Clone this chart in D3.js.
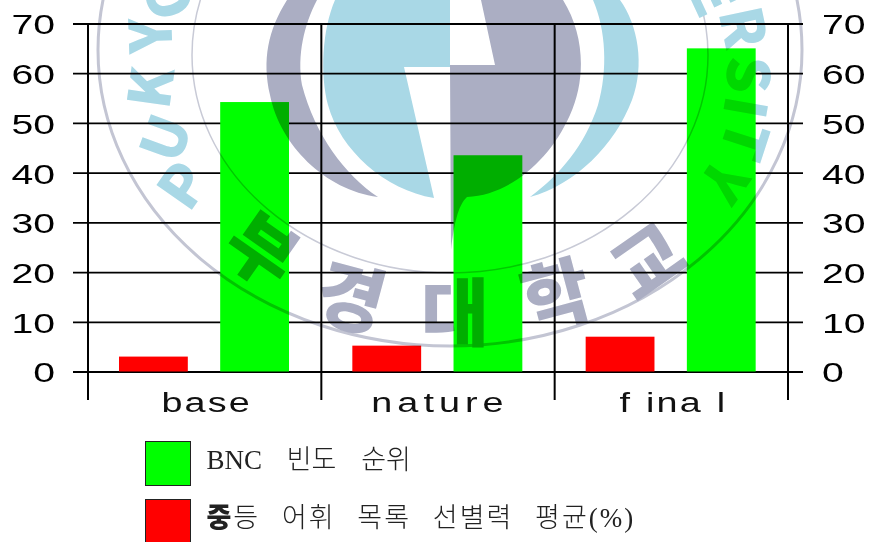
<!DOCTYPE html>
<html>
<head>
<meta charset="utf-8">
<script src="https://cdn.jsdelivr.net/npm/d3@7"></script>
<style>
  html, body { margin: 0; padding: 0; background: #fff; overflow: hidden; }
  svg { display: block; }
</style>
</head>
<body>
<script>
// Values
const categorias = ["base", "nature", "final"];
const serieRoja = [3, 5.2, 7];
const serieVerde = [54.2, 43.5, 65];
const marcasY = [0, 10, 20, 30, 40, 50, 60, 70];
const leyenda = ["BNC 빈도 순위", "등 어휘 목록 선별력 평균(%)"];
const coloresSerie = ["#ff0000", "#00ff00"];

const ancho = 869, alto = 542;
const svg = d3.select("body").append("svg")
  .attr("width", ancho)
  .attr("height", alto)
  .style("font-family", "'Liberation Sans', Arial, sans-serif");

const escalaY = d3.scaleLinear().domain([0, 70]).range([371.5, 23.5]);
const escalaX = d3.scaleBand().domain(categorias).range([88, 788]);
// position of the two bars inside each category
const escalaSerie = d3.scaleBand().domain([0, 1]).range([31, 201]).paddingInner(0.32);

const estiramiento = 1.4;
const grilla = svg.append("g");

// Axes: the left one also draws the long horizontal lines
const ejeIzq = grilla.append("g")
  .attr("transform", "translate(73,0)")
  .call(d3.axisLeft(escalaY).tickValues(marcasY).tickSize(-730).tickPadding(18));
const ejeDer = grilla.append("g")
  .attr("transform", "translate(803,0)")
  .call(d3.axisRight(escalaY).tickValues(marcasY).tickSize(0).tickPadding(19));

grilla.selectAll(".domain").remove();
grilla.selectAll(".tick line").attr("stroke", "#000").attr("stroke-width", 1.8);
[ejeIzq, ejeDer].forEach(eje => {
  eje.selectAll("text")
    .attr("font-size", 28)
    .attr("fill", "#000")
    .attr("y", 1.5)
    .attr("x", function () { return +d3.select(this).attr("x") / estiramiento; })
    .attr("transform", `scale(${estiramiento},1)`);
});

// Vertical separators come from the band edges
const bordes = categorias.map(c => escalaX(c)).concat(escalaX.range()[1]);
grilla.selectAll("line.sep")
  .data(bordes)
  .join("line")
  .attr("class", "sep")
  .attr("x1", d => d).attr("x2", d => d)
  .attr("y1", escalaY(70)).attr("y2", 400)
  .attr("stroke", "#000")
  .attr("stroke-width", 2);

// Bars
const filas = categorias.map((c, i) => [
  { c, serie: 0, valor: serieRoja[i] },
  { c, serie: 1, valor: serieVerde[i] },
]).flat();
svg.append("g").selectAll("rect")
  .data(filas)
  .join("rect")
  .attr("x", d => escalaX(d.c) + escalaSerie(d.serie))
  .attr("y", d => escalaY(d.valor))
  .attr("width", escalaSerie.bandwidth())
  .attr("height", d => escalaY(0) - escalaY(d.valor))
  .attr("fill", d => coloresSerie[d.serie]);

// Category labels, wide and loosely spaced as in the original
const espaciado = { base: 1.5, nature: 3.6, final: 1.5 };
const huecos = { base: null, nature: null, final: "0 10 0 0 10" };
svg.append("g").selectAll("text")
  .data(categorias)
  .join("text")
  .attr("transform", d => `translate(${escalaX(d) + escalaX.bandwidth() / 2 + 2},412) scale(${estiramiento},1)`)
  .attr("text-anchor", "middle")
  .attr("font-size", 27)
  .attr("fill", "#111")
  .attr("dx", d => huecos[d])
  .style("letter-spacing", d => espaciado[d] + "px")
  .text(d => d);

// Legend
const ajusteLeyenda = [{ letra: 0, palabra: 18 }, { letra: 2, palabra: 13 }];
const filasLeyenda = svg.append("g").selectAll("g")
  .data(leyenda)
  .join("g")
  .attr("transform", (d, i) => `translate(145.5,${i === 0 ? 441.5 : 499.5})`);
filasLeyenda.append("rect")
  .attr("width", 45)
  .attr("height", 44)
  .attr("fill", (d, i) => coloresSerie[1 - i])
  .attr("stroke", "#222");
const textoLeyenda = filasLeyenda.append("text")
  .attr("x", 61)
  .attr("y", 27)
  .attr("font-family", "'Liberation Serif', 'Noto Sans CJK KR', serif")
  .attr("font-size", 27)
  .attr("font-weight", 300)
  .attr("fill", "#222")
  .style("letter-spacing", (d, i) => ajusteLeyenda[i].letra + "px")
  .style("word-spacing", (d, i) => ajusteLeyenda[i].palabra + "px");
textoLeyenda.filter((d, i) => i === 1).append("tspan")
  .attr("font-weight", 900)
  .attr("font-family", "'Noto Sans CJK KR', sans-serif")
  .text("중");
textoLeyenda.append("tspan").text(d => d);

// University seal watermark, multiplied over everything so the bars darken below it
const azul = "#a9d8e6", gris = "#abaec3";
const sello = svg.append("g").style("mix-blend-mode", "multiply");
sello.append("ellipse")
  .attr("cx", 450).attr("cy", 50).attr("rx", 352).attr("ry", 296)
  .attr("fill", "none").attr("stroke", "#c3c5d3").attr("stroke-width", 3);
sello.append("ellipse")
  .attr("cx", 450).attr("cy", 55).attr("rx", 258).attr("ry", 218)
  .attr("fill", "none").attr("stroke", "#c8cad6").attr("stroke-width", 1.5);
// left crescent
sello.append("path").attr("fill", gris)
  .attr("d", "M287,0 C268,30 262,60 270,95 C280,145 325,190 378,197 C345,175 315,135 302,85 C297,55 304,25 317,0 Z");
// blue half of the shield
sello.append("path").attr("fill", azul)
  .attr("d", "M335,0 C322,30 320,75 328,105 C340,150 385,190 434,198 L404,67 L450,67 L450,0 Z");
// grey half of the shield
sello.append("path").attr("fill", gris)
  .attr("d", "M481,0 L495,65 L450,65 L451,250 C454,225 458,205 467,197 C510,195 550,160 570,115 C586,80 585,35 563,0 Z");
// right crescent
sello.append("path").attr("fill", azul)
  .attr("d", "M593,0 C606,30 608,70 598,105 C585,145 560,175 530,197 C575,185 615,145 632,100 C645,65 638,25 620,0 Z");

const letras = [
  ["P", 180, 183, -55, azul], ["U", 162, 137, -70, azul], ["K", 147, 87, -82, azul],
  ["Y", 147, 36, -92, azul], ["O", 165, -3, -108, azul],
  ["E", 716, -6, 65, azul], ["R", 747, 27, 78, azul], ["S", 752, 75, 92, azul],
  ["I", 749, 108, 100, azul], ["T", 748, 142, 108, azul], ["Y", 727, 183, 125, azul],
  ["부", 265, 246, 35, gris], ["경", 352, 293, 15, gris], ["대", 455, 307, 0, gris],
  ["학", 555, 290, -15, gris], ["교", 645, 257, -35, gris],
];
sello.selectAll("text")
  .data(letras)
  .join("text")
  .attr("transform", d => `translate(${d[1]},${d[2]}) rotate(${d[3]})`)
  .attr("text-anchor", "middle")
  .attr("dominant-baseline", "central")
  .attr("font-family", "'Noto Sans CJK KR', sans-serif")
  .attr("font-weight", 900)
  .attr("font-size", d => d[4] === gris ? 74 : 58)
  .attr("fill", d => d[4])
  .text(d => d[0]);
</script>
</body>
</html>
